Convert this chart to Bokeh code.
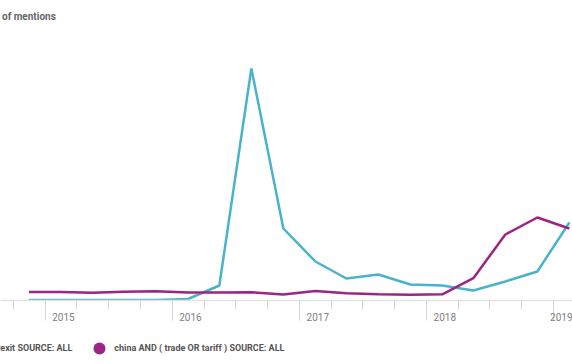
import pandas as pd
from bokeh.plotting import figure
from bokeh.layouts import column
from bokeh.models import (Range1d, DatetimeAxis, FixedTicker, DatetimeTickFormatter,
                          Legend, LegendItem)
from bokeh.embed import file_html
from bokeh.resources import INLINE

# ---- data (quarterly, mid-quarter dates) ----
quarters = ["2014-11-15", "2015-02-15", "2015-05-15", "2015-08-15", "2015-11-15",
            "2016-02-15", "2016-05-15", "2016-08-15", "2016-11-15", "2017-02-15",
            "2017-05-15", "2017-08-15", "2017-11-15", "2018-02-15", "2018-05-15",
            "2018-08-15", "2018-11-15", "2019-02-15"]
brexit = [0, 0, 0, 0, 0, 10, 145, 2315, 715, 385, 215, 255, 155, 145, 95, 185, 285, 775]
china = [80, 80, 72, 82, 87, 75, 75, 78, 55, 90, 68, 58, 52, 57, 218, 655, 825, 715]
series_names = ["brexit SOURCE: ALL", "china AND ( trade OR tariff ) SOURCE: ALL"]
series_colors = ["#4ab3cc", "#9b2484"]
year_ticks = ["2015-01-01", "2016-01-01", "2017-01-01", "2018-01-01", "2019-01-01"]
quarter_ticks = ["2014-10-01", "2015-04-01", "2015-07-01", "2015-10-01",
                 "2016-04-01", "2016-07-01", "2016-10-01",
                 "2017-04-01", "2017-07-01", "2017-10-01",
                 "2018-04-01", "2018-07-01", "2018-10-01", "2019-04-01"]
y_title = "Number of mentions"

def ms(d):
    return pd.Timestamp(d).value / 1e6

x = pd.to_datetime(quarters)
base = pd.Timestamp("2015-01-01")
x_start = base - pd.Timedelta(days=129)
x_end = base + pd.Timedelta(days=1515)

p = figure(width=572, height=324, output_backend="svg", toolbar_location=None,
           x_axis_type=None, y_axis_type=None,
           x_range=Range1d(ms(x_start), ms(x_end)), y_range=Range1d(-5, 2715),
           min_border_left=0, min_border_right=0, min_border_top=28, min_border_bottom=24,
           background_fill_color="white", border_fill_color="white")
p.outline_line_color = None
p.xgrid.visible = False
p.ygrid.visible = False

# title (y axis caption)
p.title.text = y_title
p.title.align = "left"
p.title.offset = -37
p.title.standoff = 14
p.title.text_font = "Roboto"
p.title.text_font_size = "10px"
p.title.text_font_style = "bold"
p.title.text_color = "#666666"

# axis with tick marks
ax_ticks = DatetimeAxis(
    ticker=FixedTicker(ticks=[ms(d) for d in year_ticks],
                       minor_ticks=[ms(d) for d in quarter_ticks]),
    major_tick_out=20, major_tick_in=0, minor_tick_out=9, minor_tick_in=0,
    major_label_text_font_size="0px", major_label_standoff=0,
    major_label_overrides={ms(d): "" for d in year_ticks},
    axis_line_color="#e3e3e3", axis_line_width=1.5,
    major_tick_line_color="#d6d6d6", minor_tick_line_color="#d6d6d6")
p.add_layout(ax_ticks, "below")

# axis with labels (placed just right of each year tick)
label_offset = pd.Timedelta(days=52)
fmt = "%Y"
ax_labels = DatetimeAxis(
    ticker=FixedTicker(ticks=[ms(pd.Timestamp(d) + label_offset) for d in year_ticks],
                       minor_ticks=[]),
    formatter=DatetimeTickFormatter(microseconds=fmt, milliseconds=fmt, seconds=fmt,
                                    minsec=fmt, minutes=fmt, hourmin=fmt, hours=fmt,
                                    days=fmt, months=fmt, years=fmt),
    axis_line_color=None, major_tick_line_color=None, minor_tick_line_color=None,
    major_tick_out=0, major_tick_in=0, minor_tick_out=0, minor_tick_in=0,
    major_label_standoff=-8, major_label_text_font="Roboto",
    major_label_text_font_size="10px", major_label_text_color="#808080")
p.add_layout(ax_labels, "below")

p.line(x, brexit, line_color=series_colors[0], line_width=2.5)
p.line(x, china, line_color=series_colors[1], line_width=2.5)

# legend strip (separate small figure below the chart)
lf = figure(width=572, height=40, output_backend="svg", toolbar_location=None,
            x_axis_type=None, y_axis_type=None,
            x_range=Range1d(0, 1), y_range=Range1d(0, 1),
            min_border_left=0, min_border_right=0, min_border_top=0, min_border_bottom=0,
            background_fill_color="white", border_fill_color="white")
lf.outline_line_color = None
lf.xgrid.visible = False
lf.ygrid.visible = False
# legend-only marker renderers (their single point lies outside the strip's range)
m1 = lf.scatter([-1], [-1], marker="circle", size=12, fill_color=series_colors[0], line_color=None)
m2 = lf.scatter([-1], [-1], marker="circle", size=12, fill_color=series_colors[1], line_color=None)

legend = Legend(items=[LegendItem(label=series_names[0], renderers=[m1]),
                       LegendItem(label=series_names[1], renderers=[m2])],
                orientation="horizontal", location=(-38, 1),
                glyph_width=30, glyph_height=30, label_standoff=-6, spacing=12,
                padding=0, margin=0, border_line_color=None, background_fill_alpha=0,
                label_text_font="Roboto", label_text_font_size="9px",
                label_text_font_style="bold", label_text_color="#555555")
lf.add_layout(legend, "center")

layout = column(p, lf, spacing=0)
open("out.html", "w").write(file_html(layout, INLINE))
